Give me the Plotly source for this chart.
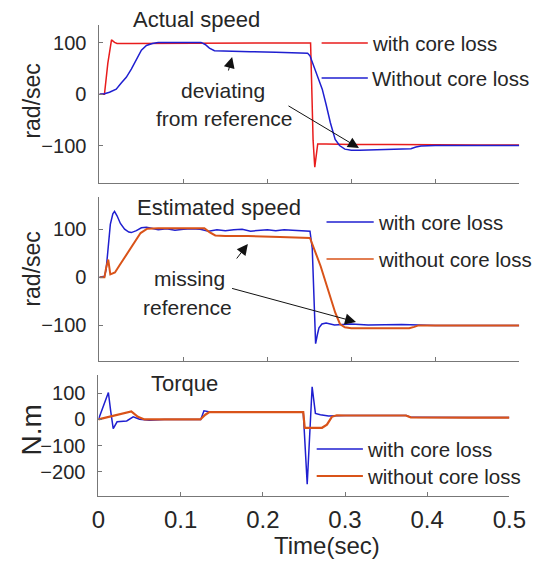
import plotly.graph_objects as go

# ---------------- data ----------------
# Panel 1: Actual speed (rad/sec)
t_act_with = [0, 0.006, 0.010, 0.0144, 0.018, 0.021, 0.04, 0.08, 0.125, 0.17, 0.21, 0.2515,
              0.2528, 0.2545, 0.2565, 0.2585, 0.2600, 0.27, 0.3, 0.35, 0.4, 0.45, 0.5]
w_act_with = [0, 0, 60, 106, 101, 99, 99, 99, 100, 99, 100, 100,
              20, -90, -142, -115, -97, -97, -98, -98, -99, -99, -99]

t_act_without = [0, 0.006, 0.012, 0.02, 0.026, 0.032, 0.038, 0.044, 0.05, 0.056, 0.063, 0.07, 0.09,
                 0.121, 0.126, 0.131, 0.137, 0.15, 0.18, 0.21, 0.248, 0.2508, 0.255, 0.2605, 0.2654,
                 0.27, 0.275, 0.2808, 0.286, 0.2923, 0.30, 0.31, 0.33, 0.35, 0.371, 0.377, 0.383,
                 0.4, 0.45, 0.5]
w_act_without = [0, 1, 4, 10, 22, 33, 49, 68, 86, 95, 99, 101, 101,
                 101, 97, 90, 85, 84, 83, 82, 80, 75, 57, 32, 10,
                 -20, -55, -88, -100, -107, -109, -109, -108, -107, -106, -103, -101,
                 -100, -100, -100]

# Panel 2: Estimated speed (rad/sec)
t_est_with = [0, 0.006, 0.008, 0.0105, 0.013, 0.016, 0.018, 0.021, 0.025, 0.03, 0.035, 0.038,
              0.044, 0.05, 0.056, 0.062, 0.07, 0.08, 0.09, 0.1, 0.11, 0.12, 0.13, 0.14, 0.15,
              0.16, 0.17, 0.18, 0.19, 0.2, 0.21, 0.22, 0.23, 0.24, 0.2508, 0.2535, 0.2555,
              0.2575, 0.2595, 0.2615, 0.265, 0.27, 0.28, 0.29, 0.3, 0.32, 0.34, 0.36, 0.38,
              0.4, 0.45, 0.5]
w_est_with = [0, 2, 16, 60, 110, 132, 137, 128, 112, 100, 94, 93,
              97, 103, 104, 102, 99, 101, 98, 100, 101, 100, 96, 99, 97,
              99, 100, 96, 98, 99, 97, 99, 98, 97, 96, 60, -60,
              -138, -120, -105, -97, -95, -99, -98, -97, -99, -98, -98, -99,
              -100, -100, -100]

t_est_without = [0, 0.006, 0.008, 0.0105, 0.013, 0.0185, 0.024, 0.030, 0.036, 0.0417, 0.049,
                 0.057, 0.07, 0.1, 0.125, 0.131, 0.138, 0.15, 0.177, 0.215, 0.2508, 0.2635,
                 0.273, 0.2808, 0.2865, 0.2923, 0.30, 0.33, 0.369, 0.375, 0.38, 0.4, 0.45, 0.5]
w_est_without = [0, 0, 20, 37, 6, 10, 25, 41, 58, 75, 92,
                 101, 102, 102, 102, 94, 87, 86, 86, 84, 82, 23,
                 -32, -73, -97, -104, -106, -106, -106, -103, -100, -100, -100, -100]

# Panel 3: Torque (N.m)
t_tq_with = [0, 0.006, 0.0121, 0.015, 0.018, 0.0227, 0.0344, 0.0423, 0.05, 0.0618, 0.08, 0.1,
             0.1245, 0.1284, 0.1342, 0.16, 0.2, 0.2492, 0.254, 0.2575, 0.26, 0.264, 0.27, 0.28,
             0.29, 0.3, 0.35, 0.375, 0.38, 0.4, 0.45, 0.5]
T_tq_with = [0, 50, 103, 30, -35, -9, -6, 10, 1, -3, 0, 0,
             0, 33, 29, 28, 28, 28, -248, 0, 125, 23, 18, 13,
             15, 15, 15, 15, 8, 7, 7, 7]

t_tq_without = [0, 0.0227, 0.0384, 0.04, 0.048, 0.056, 0.08, 0.1, 0.124, 0.13, 0.135, 0.16, 0.2,
                0.2492, 0.251, 0.272, 0.278, 0.284, 0.29, 0.3, 0.35, 0.374, 0.38, 0.4, 0.45, 0.5]
T_tq_without = [0, 16, 29, 31, 10, 0, 0, 0, 0, 18, 28, 28, 28,
                28, -32, -32, -20, 10, 16, 15, 15, 15, 8, 7, 7, 7]

x_ticks = [0, 0.1, 0.2, 0.3, 0.4, 0.5]
x_ticklabels = ["0", "0.1", "0.2", "0.3", "0.4", "0.5"]
y_ticks_speed = [-100, 0, 100]
y_ticks_torque = [-200, -100, 0, 100]

# ---------------- style ----------------
W, H = 534, 563          # target picture size (positions below are given in these pixels)
FIG_W = 549              # figure width
RED = "#e81c1c"
BLUE = "#1f1fd0"
ORANGE = "#d95319"
AXC = "#777777"
TXT = "#262626"
FONT = "Liberation Sans, Arial, sans-serif"


def X(px):
    return px / W


def Y(py):
    return 1 - py / H


fig = go.Figure()

fig.add_trace(go.Scatter(x=t_act_with, y=w_act_with, mode="lines",
                         line=dict(color=RED, width=1.5), xaxis="x", yaxis="y", showlegend=False))
fig.add_trace(go.Scatter(x=t_act_without, y=w_act_without, mode="lines",
                         line=dict(color=BLUE, width=1.5), xaxis="x", yaxis="y", showlegend=False))
fig.add_trace(go.Scatter(x=t_est_with, y=w_est_with, mode="lines",
                         line=dict(color=BLUE, width=1.5), xaxis="x2", yaxis="y2", showlegend=False))
fig.add_trace(go.Scatter(x=t_est_without, y=w_est_without, mode="lines",
                         line=dict(color=ORANGE, width=2), xaxis="x2", yaxis="y2", showlegend=False))
fig.add_trace(go.Scatter(x=t_tq_with, y=T_tq_with, mode="lines",
                         line=dict(color=BLUE, width=1.5), xaxis="x3", yaxis="y3", showlegend=False))
fig.add_trace(go.Scatter(x=t_tq_without, y=T_tq_without, mode="lines",
                         line=dict(color=ORANGE, width=2.2), xaxis="x3", yaxis="y3", showlegend=False))

xcommon = dict(range=[0, 0.5], tickvals=x_ticks, ticks="inside", ticklen=4, tickcolor=AXC,
               showline=True, linecolor=AXC, linewidth=1, showgrid=False, zeroline=False,
               tickfont=dict(family=FONT, size=24, color=TXT), ticklabeloverflow="allow")
ycommon = dict(ticks="inside", ticklen=4, tickcolor=AXC, showline=True, linecolor=AXC,
               linewidth=1, showgrid=False, zeroline=False,
               tickfont=dict(family=FONT, size=20, color=TXT), ticklabelstandoff=8)

fig.update_layout(
    width=FIG_W, height=H, autosize=False, margin=dict(l=0, r=0, t=0, b=0),
    paper_bgcolor="white", plot_bgcolor="white",
    xaxis=dict(xcommon, anchor="y", showticklabels=False, domain=[X(94), X(521)]),
    yaxis=dict(ycommon, anchor="x", range=[-173, 135], tickvals=y_ticks_speed,
               domain=[Y(183), Y(25)]),
    xaxis2=dict(xcommon, anchor="y2", showticklabels=False, domain=[X(94), X(521)]),
    yaxis2=dict(ycommon, anchor="x2", range=[-174, 167], tickvals=y_ticks_speed,
                domain=[Y(361), Y(197)]),
    xaxis3=dict(xcommon, anchor="y3", ticktext=x_ticklabels, showticklabels=True,
                ticklabelstandoff=2, domain=[X(93), X(511)]),
    yaxis3=dict(ycommon, anchor="x3", range=[-293, 170], tickvals=y_ticks_torque,
                domain=[Y(496), Y(375)]),
)

ann = []


def text(s, px, py, size=21, xanchor="center", angle=0):
    ann.append(dict(text=s, x=X(px), y=Y(py), xref="paper", yref="paper", showarrow=False,
                    xanchor=xanchor, yanchor="middle", textangle=angle,
                    font=dict(family=FONT, size=size, color=TXT)))


text("Actual speed", 193, 20, 22)
text("Estimated speed", 216, 207, 22)
text("Torque", 181, 383, 22)
text("rad/sec", 25, 101, 23, angle=-90)
text("rad/sec", 25, 269, 23, angle=-90)
text("N.m", 25, 430, 28, angle=-90)
text("Time(sec)", 325, 545, 24)
text("deviating", 220, 90, 21)
text("from reference", 221, 118, 21)
text("missing", 186, 278, 21)
text("reference", 184, 307, 21)

# legends
shapes = []


def legend_item(label, color, x0, x1, py, width=1.5):
    shapes.append(dict(type="line", xref="paper", yref="paper", x0=X(x0), x1=X(x1),
                       y0=Y(py), y1=Y(py), line=dict(color=color, width=width)))
    text(label, x1 + 2, py, 20.5, xanchor="left")


legend_item("with core loss", RED, 320, 367, 43)
legend_item("Without core loss", BLUE, 320, 367, 78)
legend_item("with core loss", BLUE, 325, 373, 222)
legend_item("without core loss", ORANGE, 325, 373, 259)
legend_item("with core loss", BLUE, 315, 362, 449)
legend_item("without core loss", ORANGE, 315, 362, 476, 2)


def arrow(hx, hy, tx, ty):
    ann.append(dict(x=X(hx), y=Y(hy), xref="paper", yref="paper",
                    ax=(tx - hx) * FIG_W / W, ay=ty - hy,
                    axref="pixel", ayref="pixel", showarrow=True, arrowhead=2, arrowsize=2.2,
                    arrowwidth=1, arrowcolor="#111111", text=""))


arrow(229, 57, 225, 72)
arrow(358, 148, 288, 105)
arrow(245, 244, 233, 260)
arrow(355, 322, 233, 288)

fig.update_layout(annotations=ann, shapes=shapes)
fig.write_html("out.html",
               config={"displayModeBar": False, "responsive": False},
               post_script="document.body.style.margin='0';document.body.style.overflow='hidden';")
